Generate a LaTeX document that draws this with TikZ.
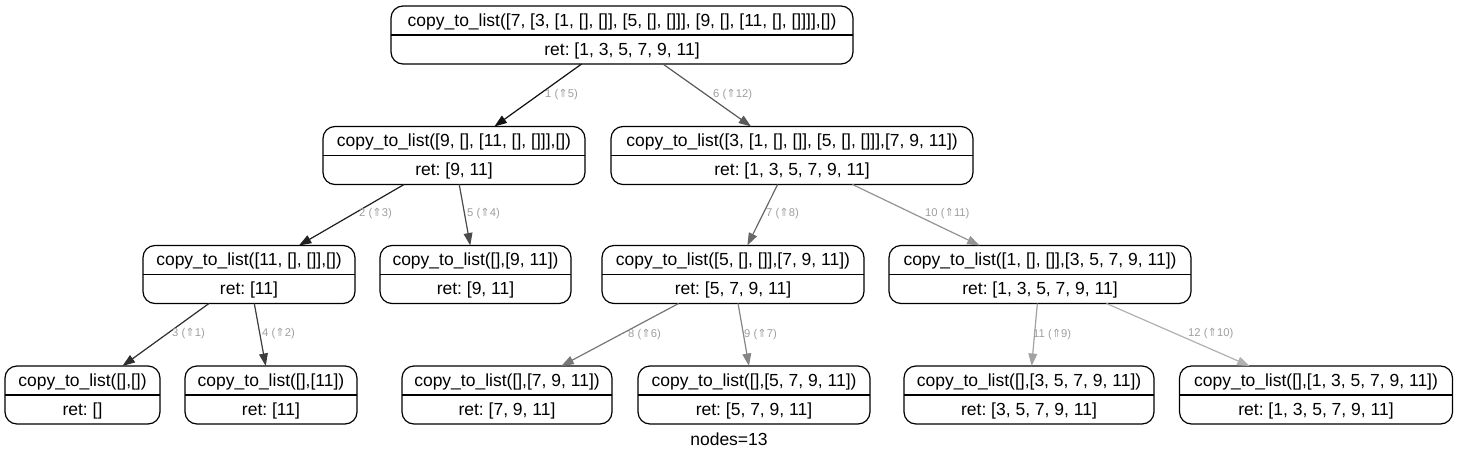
\documentclass[tikz,border=0pt]{standalone}
\usepackage{fontspec}
\setmainfont{Liberation Sans}
\newfontfamily\arrowfont{DejaVu Sans}
\usetikzlibrary{calc,arrows.meta}
\frenchspacing
\definecolor{e1}{gray}{0.067}
\definecolor{e2}{gray}{0.124}
\definecolor{e3}{gray}{0.181}
\definecolor{e4}{gray}{0.238}
\definecolor{e5}{gray}{0.295}
\definecolor{e6}{gray}{0.352}
\definecolor{e7}{gray}{0.409}
\definecolor{e8}{gray}{0.466}
\definecolor{e9}{gray}{0.523}
\definecolor{e10}{gray}{0.580}
\definecolor{e11}{gray}{0.637}
\definecolor{e12}{gray}{0.694}
\definecolor{lblcol}{gray}{0.62}
\tikzset{
  rec/.style={draw=black, line width=1.2pt, rounded corners=12pt, minimum height=58pt, inner sep=0pt, outer sep=0pt},
  recline/.style={draw=black, line width=1.1pt},
  rtext/.style={font=\fontsize{17.5}{20}\selectfont, inner sep=0pt, anchor=base},
  edge/.style={line width=1.2pt, -{Triangle[length=12.5pt,width=8.75pt]}},
  elabel/.style={font=\fontsize{11.25}{13}\selectfont, text=lblcol, inner sep=0pt, anchor=west},
}
\newcommand\recnode[6]{%
  \node[rec, minimum width=#4pt] (#1) at (#2,#3) {};
  \draw[recline] (#1.west) -- (#1.east);
  \node[rtext] (#1-t) at ($(#1.center)+(0,-8.7)$) {#5};
  \node[rtext] (#1-b) at ($(#1.center)+(0,20.3)$) {#6};
}
\newcommand\ar{{\arrowfont ⇑}}
\begin{document}
\begin{tikzpicture}[x=1pt,y=-1pt]
\useasboundingbox (0,0) rectangle (1457,461);
\recnode{root}{622}{35}{462}{copy\_to\_list([7, [3, [1, [], []], [5, [], []]], [9, [], [11, [], []]]],[])}{ret: [1, 3, 5, 7, 9, 11]}
\recnode{A}{454}{155.5}{262}{copy\_to\_list([9, [], [11, [], []]],[])}{ret: [9, 11]}
\recnode{B}{792}{155.5}{362}{copy\_to\_list([3, [1, [], []], [5, [], []]],[7, 9, 11])}{ret: [1, 3, 5, 7, 9, 11]}
\recnode{C}{249}{274.5}{212}{copy\_to\_list([11, [], []],[])}{ret: [11]}
\recnode{D}{475.5}{274.5}{191}{copy\_to\_list([],[9, 11])}{ret: [9, 11]}
\recnode{E}{733}{274.5}{262}{copy\_to\_list([5, [], []],[7, 9, 11])}{ret: [5, 7, 9, 11]}
\recnode{F}{1040}{274.5}{302}{copy\_to\_list([1, [], []],[3, 5, 7, 9, 11])}{ret: [1, 3, 5, 7, 9, 11]}
\recnode{G}{82.5}{395}{155}{copy\_to\_list([],[])}{ret: []}
\recnode{H}{271}{395}{172}{copy\_to\_list([],[11])}{ret: [11]}
\recnode{I}{507}{395}{210}{copy\_to\_list([],[7, 9, 11])}{ret: [7, 9, 11]}
\recnode{J}{754}{395}{232}{copy\_to\_list([],[5, 7, 9, 11])}{ret: [5, 7, 9, 11]}
\recnode{K}{1029}{395}{250}{copy\_to\_list([],[3, 5, 7, 9, 11])}{ret: [3, 5, 7, 9, 11]}
\recnode{L}{1316}{395}{273}{copy\_to\_list([],[1, 3, 5, 7, 9, 11])}{ret: [1, 3, 5, 7, 9, 11]}

\draw[edge, draw=e1, fill=e1] (root) -- (A);
\draw[edge, draw=e6, fill=e6] (root) -- (B);
\draw[edge, draw=e2, fill=e2] (A) -- (C);
\draw[edge, draw=e5, fill=e5] (A) -- (D);
\draw[edge, draw=e3, fill=e3] (C) -- (G);
\draw[edge, draw=e4, fill=e4] (C) -- (H);
\draw[edge, draw=e7, fill=e7] (B) -- (E);
\draw[edge, draw=e10, fill=e10] (B) -- (F);
\draw[edge, draw=e8, fill=e8] (E) -- (I);
\draw[edge, draw=e9, fill=e9] (E) -- (J);
\draw[edge, draw=e11, fill=e11] (F) -- (K);
\draw[edge, draw=e12, fill=e12] (F) -- (L);

\node[elabel] (l1) at (545,95) {1 (\ar5)};
\node[elabel] (l6) at (713,95) {6 (\ar12)};
\node[elabel] (l2) at (359,214) {2 (\ar3)};
\node[elabel] (l5) at (467,214) {5 (\ar4)};
\node[elabel] (l7) at (766,214) {7 (\ar8)};
\node[elabel] (l10) at (925,214) {10 (\ar11)};
\node[elabel] (l3) at (172,334) {3 (\ar1)};
\node[elabel] (l4) at (262,334) {4 (\ar2)};
\node[elabel] (l8) at (628,335) {8 (\ar6)};
\node[elabel] (l9) at (744,335) {9 (\ar7)};
\node[elabel] (l11) at (1033,335) {11 (\ar9)};
\node[elabel] (l12) at (1188,334) {12 (\ar10)};

\node[font=\fontsize{17.5}{20}\selectfont, inner sep=0pt] (glabel) at (729,439) {nodes=13};
\end{tikzpicture}
\end{document}
